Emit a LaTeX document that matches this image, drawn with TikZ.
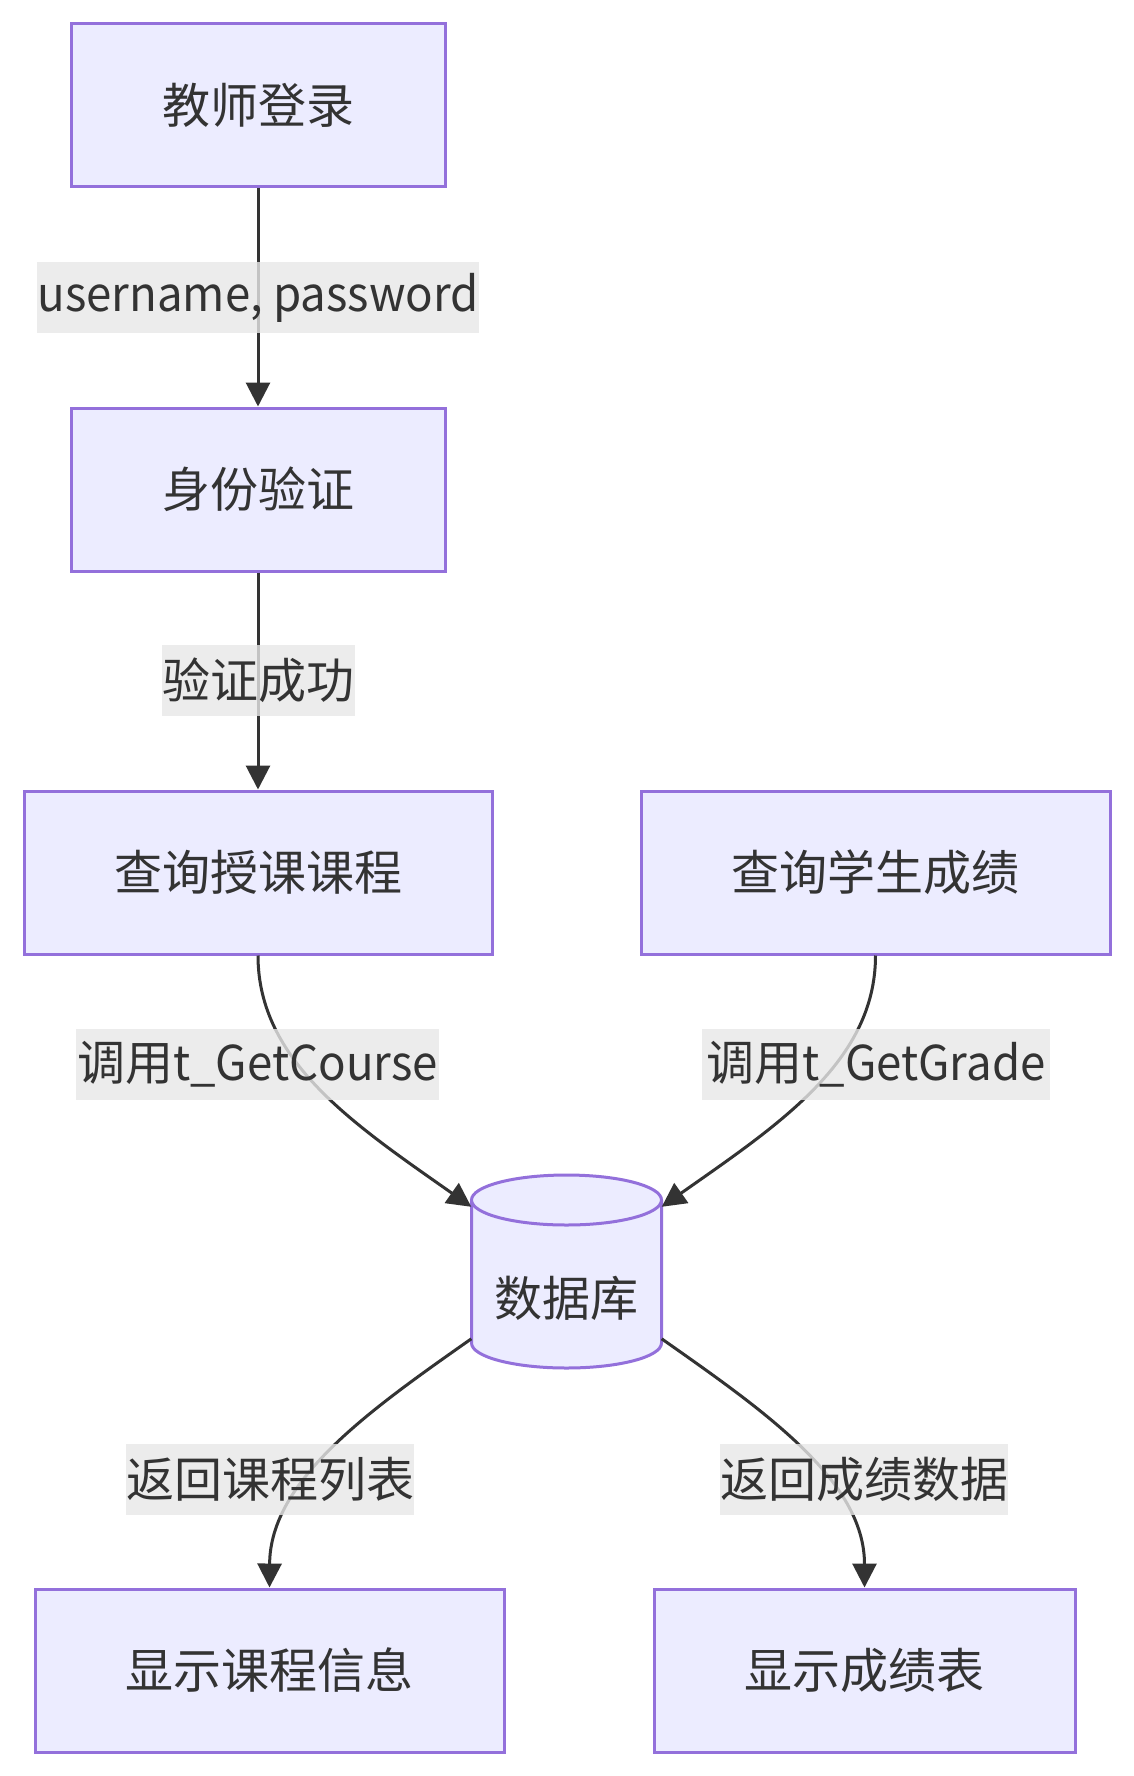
\documentclass[tikz,border=0pt]{standalone}
\usepackage{fontspec}
\setmainfont{Noto Sans CJK SC}
\newfontfamily\latinpart[FakeStretch=0.95]{Noto Sans CJK SC}
\usetikzlibrary{arrows.meta,calc}
\definecolor{boxfill}{HTML}{ECECFF}
\definecolor{boxline}{HTML}{9370DB}
\definecolor{ink}{HTML}{333333}
\definecolor{lblbg}{HTML}{E8E8E8}
\tikzset{
  stepbox/.style={draw=boxline, fill=boxfill, line width=3pt, minimum height=163pt,
    inner sep=0pt, text=ink, font=\fontsize{48}{58}\selectfont},
  flow/.style={draw=ink, line width=3pt, -{Triangle[length=24pt,width=24pt]}},
  edgelbl/.style={fill=lblbg, fill opacity=0.8, text opacity=1, text=ink,
    inner xsep=0pt, inner ysep=0pt, minimum height=71pt,
    font=\fontsize{48}{58}\selectfont},
}
\begin{document}
\begin{tikzpicture}[x=1pt,y=-1pt]
\useasboundingbox[fill=white] (0,0) rectangle (1134,1776);

% process boxes
\node[stepbox, minimum width=374pt] (login)  at (258,105)    {教师登录};
\node[stepbox, minimum width=374pt] (auth)   at (258,489.5)  {身份验证};
\node[stepbox, minimum width=468pt] (qcourse) at (258,872.5) {查询授课课程};
\node[stepbox, minimum width=469pt] (qgrade) at (875.5,872.5) {查询学生成绩};
\node[stepbox, minimum width=469pt] (showc)  at (269.5,1670.5) {显示课程信息};
\node[stepbox, minimum width=421pt] (showg)  at (864.5,1670.5) {显示成绩表};

% database cylinder
\node[minimum width=190pt, minimum height=193pt, inner sep=0pt] (db) at (566.5,1271.5) {};
\filldraw[draw=boxline, fill=boxfill, line width=3pt]
  (471.5,1200) -- (471.5,1343) arc[start angle=180, end angle=0, x radius=95, y radius=25]
  -- (661.5,1200);
\filldraw[draw=boxline, fill=boxfill, line width=3pt] (566.5,1200) ellipse[x radius=95, y radius=25];
\node[text=ink, font=\fontsize{48}{58}\selectfont] at (566.5,1298) {数据库};

\coordinate (dbinL)  at ($(db.north west)+(0,32)$);
\coordinate (dbinR)  at ($(db.north east)+(0,32)$);
\coordinate (dboutL) at ($(db.north west)+(0,164)$);
\coordinate (dboutR) at ($(db.north east)+(0,164)$);

% connectors
\draw[flow] (login.south) -- (auth.north);
\draw[flow] (auth.south) -- (qcourse.north);
\draw[flow] (qcourse.south) .. controls ($(qcourse.south)+(0,106)$) and (355,1125) .. (dbinL);
\draw[flow] (qgrade.south) .. controls ($(qgrade.south)+(0,106)$) and (778,1125) .. (dbinR);
\draw[flow] (dboutL) .. controls (370,1410) and (270,1480) .. (showc.north);
\draw[flow] (dboutR) .. controls (763,1410) and (864.5,1480) .. (showg.north);

% connector labels
\node[edgelbl, minimum width=438pt] (l1) at (258,297.5)  {\latinpart username, password};
\node[edgelbl, minimum width=193pt] (l2) at (258.5,680.5) {验证成功};
\node[edgelbl, minimum width=363pt] (l3) at (257.5,1064.5) {调用{\latinpart t\_GetCourse}};
\node[edgelbl, minimum width=348pt] (l4) at (876,1064.5)  {调用{\latinpart t\_GetGrade}};
\node[edgelbl, minimum width=288pt] (l5) at (270,1479)    {返回课程列表};
\node[edgelbl, minimum width=288pt] (l6) at (864,1479)    {返回成绩数据};
\end{tikzpicture}
\end{document}
